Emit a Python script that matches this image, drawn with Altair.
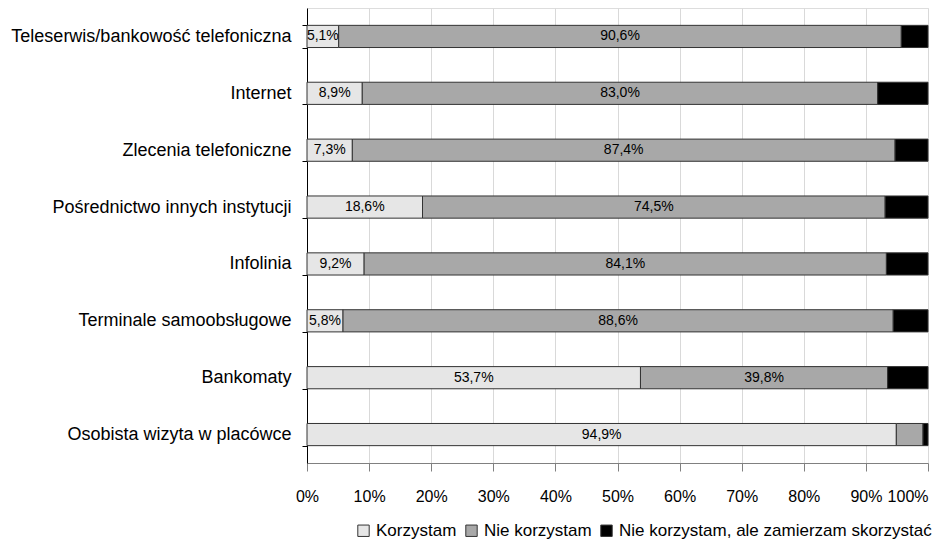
import altair as alt
import pandas as pd

# Channels of contact with the bank, top to bottom
categories = [
    "Teleserwis/bankowość telefoniczna",
    "Internet",
    "Zlecenia telefoniczne",
    "Pośrednictwo innych instytucji",
    "Infolinia",
    "Terminale samoobsługowe",
    "Bankomaty",
    "Osobista wizyta w placówce",
]
korzystam = [5.1, 8.9, 7.3, 18.6, 9.2, 5.8, 53.7, 94.9]
nie_korzystam = [90.6, 83.0, 87.4, 74.5, 84.1, 88.6, 39.8, 4.3]
zamierzam = [4.3, 8.1, 5.3, 6.9, 6.7, 5.6, 6.5, 0.8]

series = ["Korzystam", "Nie korzystam", "Nie korzystam, ale zamierzam skorzystać"]
colors = ["#e6e6e6", "#a8a8a8", "#000000"]

rows = []
for i, cat in enumerate(categories):
    for j, (name, vals, labelled) in enumerate(
        [(series[0], korzystam, True), (series[1], nie_korzystam, True), (series[2], zamierzam, False)]
    ):
        v = vals[i]
        show = labelled and v >= 5
        rows.append({
            "kanal": cat,
            "seria": name,
            "kolejnosc": j,
            "wartosc": v,
            "etykieta": (f"{v:.1f}".replace(".", ",") + "%") if show else "",
        })
df = pd.DataFrame(rows)

font = "Liberation Sans"

base = alt.Chart(df).transform_stack(
    stack="wartosc",
    groupby=["kanal"],
    as_=["x0", "x1"],
    sort=[alt.SortField("kolejnosc", order="ascending")],
).transform_calculate(
    xm="(datum.x0 + datum.x1) / 2"
)

y_enc = alt.Y(
    "kanal:N",
    sort=categories,
    title=None,
    scale=alt.Scale(paddingInner=0.61, paddingOuter=0.305),
    axis=alt.Axis(
        tickBand="extent",
        tickSize=5,
        tickColor="#000000",
        domainColor="#000000",
        labelFontSize=18,
        labelFont=font,
        labelColor="#000000",
        labelPadding=11,
        labelLimit=320,
    ),
)

bars = base.mark_bar(stroke="#333333", strokeWidth=1).encode(
    x=alt.X(
        "x0:Q",
        scale=alt.Scale(domain=[0, 100], nice=False),
        title=None,
        axis=alt.Axis(
            values=list(range(0, 101, 10)),
            labelExpr="datum.value + '%'",
            labelFlush=False,
            labelAlign=alt.condition("datum.value == 100", alt.value("right"), alt.value("center")),
            grid=True,
            gridColor="#d9d9d9",
            gridWidth=1,
            domainColor="#808080",
            tickColor="#808080",
            tickSize=8,
            labelFontSize=16,
            labelFont=font,
            labelColor="#000000",
            labelPadding=17,
        ),
    ),
    x2="x1:Q",
    y=y_enc,
    fill=alt.Fill(
        "seria:N",
        scale=alt.Scale(domain=series, range=colors),
        legend=alt.Legend(
            title=None,
            orient="none",
            direction="horizontal",
            legendX=48,
            legendY=514,
            symbolType="square",
            symbolSize=130,
            symbolStrokeColor="#333333",
            symbolStrokeWidth=1,
            labelFontSize=17,
            labelFont=font,
            labelColor="#000000",
            labelLimit=450,
            columnPadding=6,
            symbolOffset=0,
            labelOffset=4,
        ),
    ),
    order=alt.Order("kolejnosc:Q"),
)

labels = base.mark_text(fontSize=14, font=font, color="#000000").encode(
    x="xm:Q",
    y=alt.Y("kanal:N", sort=categories),
    text="etykieta:N",
)

chart = (
    alt.layer(bars, labels)
    .properties(
        width=621,
        height=455,
        autosize=alt.AutoSizeParams(type="none"),
        padding={"left": 307, "top": 8, "right": 14, "bottom": 80},
    )
    .configure_view(stroke=None)
    .configure(background="#ffffff")
)

chart.save("out.html", embed_options={"renderer": "svg", "actions": False})
